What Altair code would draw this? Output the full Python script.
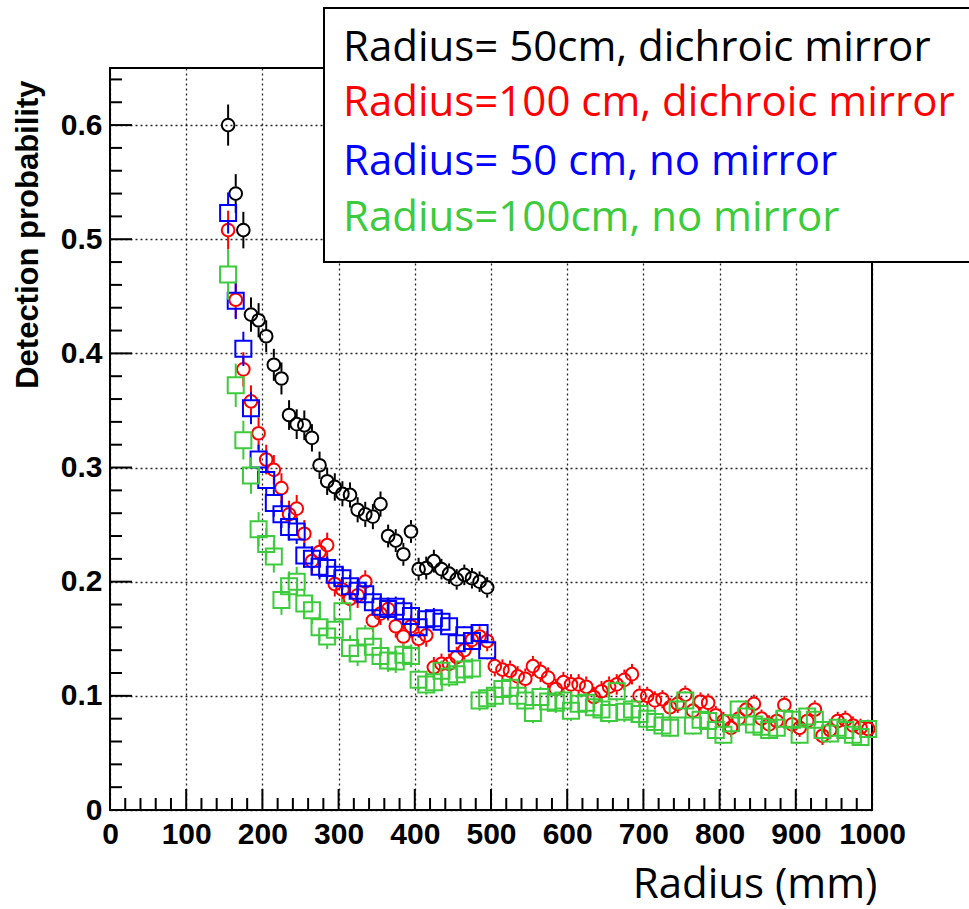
import altair as alt
import pandas as pd

# ---------------- data ----------------
x_50 = list(range(155, 500, 10))    # bin centres, 50 cm radius runs
x_100 = list(range(155, 1000, 10))  # bin centres, 100 cm radius runs

black_y = [0.600, 0.540, 0.508, 0.434, 0.429, 0.415, 0.390, 0.378, 0.346, 0.338,
           0.337, 0.326, 0.302, 0.288, 0.283, 0.277, 0.276, 0.263, 0.259, 0.257,
           0.268, 0.240, 0.236, 0.224, 0.244, 0.211, 0.212, 0.218, 0.211, 0.207,
           0.202, 0.206, 0.203, 0.200, 0.195]
black_err = [0.018, 0.017, 0.016, 0.015, 0.015, 0.014, 0.014, 0.014, 0.013, 0.013,
             0.013, 0.012, 0.012, 0.012, 0.012, 0.011, 0.011, 0.011, 0.011, 0.011,
             0.011, 0.010, 0.010, 0.010, 0.010, 0.010, 0.010, 0.010, 0.009, 0.009,
             0.009, 0.009, 0.009, 0.009, 0.009]

blue_y = [0.523, 0.446, 0.404, 0.352, 0.307, 0.289, 0.269, 0.259, 0.248, 0.244,
          0.223, 0.220, 0.213, 0.212, 0.206, 0.203, 0.196, 0.192, 0.189, 0.182,
          0.178, 0.176, 0.178, 0.174, 0.170, 0.160, 0.167, 0.168, 0.165, 0.161,
          0.146, 0.153, 0.148, 0.155, 0.140]
blue_err = [0.018, 0.016, 0.015, 0.014, 0.013, 0.013, 0.012, 0.012, 0.012, 0.011,
            0.011, 0.011, 0.011, 0.010, 0.010, 0.010, 0.010, 0.010, 0.010, 0.009,
            0.009, 0.009, 0.009, 0.009, 0.009, 0.009, 0.009, 0.009, 0.009, 0.008,
            0.008, 0.008, 0.008, 0.008, 0.008]

red_y = [0.508, 0.447, 0.386, 0.358, 0.330, 0.307, 0.298, 0.282, 0.259, 0.264,
         0.242, 0.218, 0.226, 0.232, 0.198, 0.193, 0.185, 0.188, 0.200, 0.166,
         0.172, 0.176, 0.161, 0.152, 0.161, 0.150, 0.153, 0.125, 0.128, 0.128,
         0.134, 0.140, 0.149, 0.152, 0.148,
         0.126, 0.123, 0.122, 0.117, 0.115, 0.126, 0.121, 0.116, 0.106, 0.112,
         0.110, 0.110, 0.108, 0.099, 0.104, 0.108, 0.110, 0.114, 0.119, 0.100,
         0.100, 0.096, 0.097, 0.090, 0.093, 0.101, 0.087, 0.095, 0.094, 0.083,
         0.078, 0.072, 0.080, 0.088, 0.093, 0.080, 0.075, 0.078, 0.092, 0.075,
         0.072, 0.078, 0.088, 0.065, 0.070, 0.078, 0.079, 0.074, 0.072, 0.071]
red_err = [0.017, 0.016, 0.015, 0.014, 0.014, 0.013, 0.013, 0.013, 0.012, 0.012,
           0.012, 0.012, 0.011, 0.011, 0.011, 0.011, 0.011, 0.011, 0.010, 0.010,
           0.010, 0.010, 0.010, 0.010, 0.010, 0.010, 0.010, 0.009, 0.009, 0.009,
           0.009, 0.009, 0.009, 0.009, 0.009,
           0.009, 0.009, 0.009, 0.009, 0.009, 0.009, 0.009, 0.009, 0.009, 0.009,
           0.009, 0.009, 0.009, 0.009, 0.009, 0.009, 0.009, 0.009, 0.009, 0.009,
           0.008, 0.008, 0.008, 0.008, 0.008, 0.008, 0.008, 0.008, 0.008, 0.008,
           0.008, 0.008, 0.008, 0.008, 0.008, 0.008, 0.008, 0.008, 0.008, 0.008,
           0.008, 0.008, 0.008, 0.008, 0.008, 0.008, 0.008, 0.008, 0.008, 0.008]

green_y = [0.469, 0.372, 0.324, 0.293, 0.246, 0.233, 0.222, 0.184, 0.196, 0.200,
           0.181, 0.175, 0.160, 0.152, 0.158, 0.174, 0.142, 0.137, 0.152, 0.143,
           0.135, 0.131, 0.130, 0.136, 0.135, 0.114, 0.110, 0.112, 0.122, 0.117,
           0.119, 0.123, 0.124, 0.096, 0.098,
           0.100, 0.106, 0.107, 0.100, 0.096, 0.085, 0.099, 0.095, 0.094, 0.096,
           0.087, 0.093, 0.094, 0.090, 0.088, 0.085, 0.104, 0.086, 0.088, 0.084,
           0.080, 0.077, 0.074, 0.072, 0.088, 0.096, 0.074, 0.079, 0.078, 0.070,
           0.066, 0.076, 0.088, 0.082, 0.075, 0.073, 0.070, 0.072, 0.080, 0.079,
           0.066, 0.082, 0.079, 0.070, 0.067, 0.072, 0.070, 0.066, 0.064, 0.071]
green_err = [0.022, 0.019, 0.017, 0.016, 0.015, 0.014, 0.014, 0.013, 0.013, 0.013,
             0.012, 0.012, 0.012, 0.011, 0.011, 0.011, 0.011, 0.011, 0.010, 0.010,
             0.010, 0.010, 0.010, 0.010, 0.010, 0.009, 0.009, 0.009, 0.009, 0.009,
             0.009, 0.009, 0.009, 0.009, 0.009,
             0.009, 0.009, 0.009, 0.009, 0.009, 0.009, 0.009, 0.009, 0.009, 0.009,
             0.009, 0.009, 0.009, 0.009, 0.009, 0.009, 0.009, 0.009, 0.009, 0.009,
             0.008, 0.008, 0.008, 0.008, 0.008, 0.008, 0.008, 0.008, 0.008, 0.008,
             0.008, 0.008, 0.008, 0.008, 0.008, 0.008, 0.008, 0.008, 0.008, 0.008,
             0.008, 0.008, 0.008, 0.008, 0.008, 0.008, 0.008, 0.008, 0.008, 0.008]

legend_labels = ["Radius= 50cm, dichroic mirror",
                 "Radius=100 cm, dichroic mirror",
                 "Radius= 50 cm, no mirror",
                 "Radius=100cm, no mirror"]
legend_colors = ["#000000", "#ff0000", "#0000ff", "#3ccb3c"]

x_major = [0, 100, 200, 300, 400, 500, 600, 700, 800, 900, 1000]
x_minor = [v for v in range(0, 1001, 20) if v % 100 != 0]
y_major = [0.0, 0.1, 0.2, 0.3, 0.4, 0.5, 0.6]
y_minor = [0.02, 0.04, 0.06, 0.08, 0.12, 0.14, 0.16, 0.18, 0.22, 0.24, 0.26, 0.28,
           0.32, 0.34, 0.36, 0.38, 0.42, 0.44, 0.46, 0.48, 0.52, 0.54, 0.56, 0.58,
           0.62, 0.64]

# ---------------- layout ----------------
W, H = 762, 742

x_scale = alt.Scale(domain=[0, 1000], nice=False, zero=False)
y_scale = alt.Scale(domain=[0, 0.65], nice=False, zero=False)

x_axis = alt.Axis(values=x_major, grid=True, gridDash=[2, 3], gridColor="#000000",
                  gridWidth=1.3, gridOpacity=0.85, ticks=False, domain=False,
                  labelFont="Liberation Sans", labelFontWeight="bold", labelFontSize=30,
                  labelColor="#000000", labelPadding=9, labelFlush=False,
                  labelOverlap=False, labelExpr="format(datum.value, 'd')",
                  title="Radius (mm)", titleFont="Open Sans", titleFontSize=42,
                  titleFontWeight="normal", titleColor="#000000", titleAlign="right",
                  titleBaseline="alphabetic", titleX=767, titleY=87)
y_axis = alt.Axis(values=y_major, grid=True, gridDash=[2, 3], gridColor="#000000",
                  gridWidth=1.3, gridOpacity=0.85, ticks=False, domain=False,
                  labelFont="Liberation Sans", labelFontWeight="bold", labelFontSize=30,
                  labelColor="#000000", labelPadding=8, labelFlush=False,
                  labelOverlap=False,
                  labelExpr="datum.value == 0 ? '0' : format(datum.value, '.1f')",
                  title="Detection probability", titleFont="Liberation Sans",
                  titleFontSize=31, titleFontWeight="bold", titleColor="#000000",
                  titleAngle=270, titleAlign="right", titleBaseline="alphabetic",
                  titleX=-73, titleY=12)


def X(field="x"):
    return alt.X(f"{field}:Q", scale=x_scale, axis=x_axis)


def Y(field="y"):
    return alt.Y(f"{field}:Q", scale=y_scale, axis=y_axis)


dummy = pd.DataFrame({"a": [0]})

layers = []

# inner ticks (ROOT style)
layers.append(alt.Chart(pd.DataFrame({"x": x_major})).mark_rule(color="black", strokeWidth=2)
              .encode(x=X(), y=alt.value(H), y2=alt.value(H - 21)))
layers.append(alt.Chart(pd.DataFrame({"x": x_minor})).mark_rule(color="black", strokeWidth=2)
              .encode(x=X(), y=alt.value(H), y2=alt.value(H - 12)))
layers.append(alt.Chart(pd.DataFrame({"y": y_major})).mark_rule(color="black", strokeWidth=2)
              .encode(y=Y(), x=alt.value(0), x2=alt.value(22)))
layers.append(alt.Chart(pd.DataFrame({"y": y_minor})).mark_rule(color="black", strokeWidth=2)
              .encode(y=Y(), x=alt.value(0), x2=alt.value(12)))

# frame
layers.append(alt.Chart(dummy).mark_rect(fill="white", fillOpacity=0, stroke="black",
                                         strokeWidth=2)
              .encode(x=alt.value(0), x2=alt.value(W), y=alt.value(0), y2=alt.value(H)))


def series(xs, ys, es, color, shape, size, gap):
    df = pd.DataFrame({"x": xs, "y": ys, "err": es})
    base = alt.Chart(df).transform_calculate(hi="datum.y + datum.err",
                                             lo="datum.y - datum.err")
    up = base.mark_rule(color=color, strokeWidth=2, y2Offset=-gap).encode(
        x=X(), y=Y("hi"), y2="y:Q")
    down = base.mark_rule(color=color, strokeWidth=2, y2Offset=gap).encode(
        x=X(), y=Y("lo"), y2="y:Q")
    pts = alt.Chart(df).mark_point(shape=shape, filled=False, size=size, strokeWidth=2,
                                   color=color, opacity=1).encode(x=X(), y=Y())
    return [up, down, pts]


layers += series(x_50, black_y, black_err, legend_colors[0], "circle", 160, 7)
layers += series(x_100, red_y, red_err, legend_colors[1], "circle", 160, 7)
layers += series(x_50, blue_y, blue_err, legend_colors[2], "square", 256, 8)
layers += series(x_100, green_y, green_err, legend_colors[3], "square", 256, 8)

# legend box
layers.append(alt.Chart(dummy).mark_rect(fill="white", stroke="black", strokeWidth=2)
              .encode(x=alt.value(214), x2=alt.value(900), y=alt.value(-60),
                      y2=alt.value(194)))
legend_y = [-20, 35, 94, 150]
for lab, col, yy in zip(legend_labels, legend_colors, legend_y):
    layers.append(alt.Chart(dummy).mark_text(text=lab, color=col, font="Open Sans",
                                             fontSize=42, align="left",
                                             baseline="middle")
                  .encode(x=alt.value(233), y=alt.value(yy)))

chart = alt.layer(*layers).properties(
    width=W, height=H,
    padding={"left": 110, "top": 68, "right": 97, "bottom": 99},
    autosize=alt.AutoSizeParams(type="none"),
    background="white",
).configure_view(stroke="transparent")

chart.save("out.html", embed_options={"renderer": "svg", "actions": False})
